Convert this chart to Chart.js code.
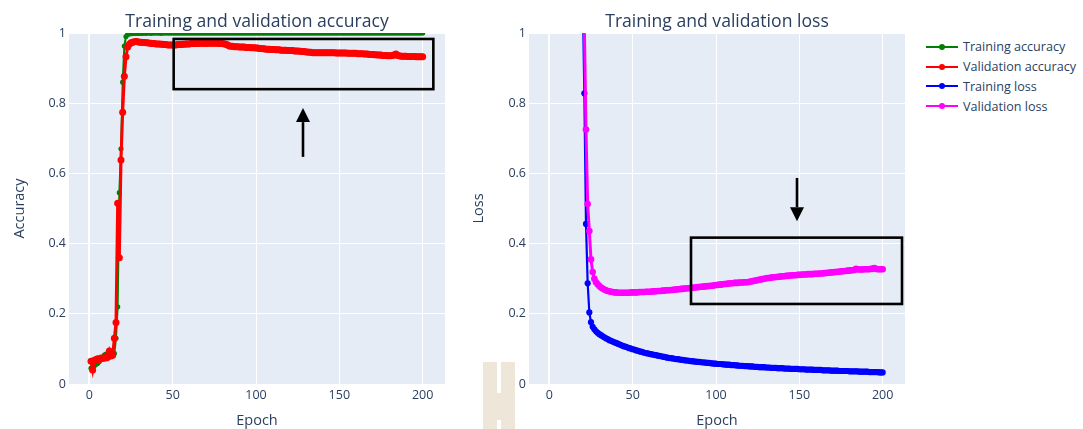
<!DOCTYPE html>
<html>
<head>
<meta charset="utf-8">
<script src="https://cdn.jsdelivr.net/npm/chart.js@4.4.1/dist/chart.umd.min.js"></script>
<style>
  body { margin: 0; background: #fff; width: 1083px; height: 429px; overflow: hidden; position: relative; font-family: "Open Sans", sans-serif; }
  canvas { position: absolute; top: 0; }
  #accChart { left: 0; }
  #lossChart { left: 470px; }
  #legend { position: absolute; left: 926px; top: 37px; font-size: 12.6px; color: #2a3f5f; }
  #legend .row { display: flex; align-items: center; height: 19.8px; white-space: nowrap; }
  #legend svg { margin-right: 5px; }
  .mark { position: absolute; background: #ede6d9; }
  .slit { position: absolute; background: #fff; }
</style>
</head>
<body>
<div class="mark" style="left:483px;top:362px;width:32px;height:67px;"></div>
<div class="slit" style="left:497px;top:362px;width:4px;height:31px;"></div>
<div class="slit" style="left:497px;top:420px;width:4px;height:9px;"></div>
<canvas id="accChart" width="460" height="429"></canvas>
<canvas id="lossChart" width="450" height="429"></canvas>
<div id="legend"></div>
<script>
// values, epochs 1..200
var trainAcc = [
  0.045, 0.048, 0.052, 0.056, 0.059, 0.064, 0.070, 0.076, 0.082, 0.085,
  0.080, 0.079, 0.082, 0.084, 0.087, 0.130, 0.220, 0.545, 0.670, 0.860,
  0.963, 0.990, 0.996, 0.998, 0.998, 0.999, 0.999, 0.999, 0.999, 0.999,
  0.999, 0.999, 1.000, 0.999, 1.000, 1.000, 0.999, 1.000, 1.000, 1.000,
  1.000, 1.000, 0.999, 1.000, 1.000, 1.000, 1.000, 1.000, 1.000, 1.000,
  1.000, 1.000, 1.000, 1.000, 1.000, 1.000, 1.000, 1.000, 1.000, 1.000,
  1.000, 1.000, 1.000, 1.000, 1.000, 1.000, 1.000, 1.000, 1.000, 1.000,
  1.000, 1.000, 1.000, 1.000, 1.000, 1.000, 1.000, 1.000, 1.000, 1.000,
  1.000, 1.000, 1.000, 1.000, 1.000, 1.000, 1.000, 1.000, 1.000, 1.000,
  1.000, 1.000, 1.000, 1.000, 1.000, 1.000, 1.000, 1.000, 1.000, 1.000,
  1.000, 1.000, 1.000, 1.000, 1.000, 1.000, 1.000, 1.000, 1.000, 1.000,
  1.000, 1.000, 1.000, 1.000, 1.000, 1.000, 1.000, 1.000, 1.000, 1.000,
  1.000, 1.000, 1.000, 1.000, 1.000, 1.000, 1.000, 1.000, 1.000, 1.000,
  1.000, 1.000, 1.000, 1.000, 1.000, 1.000, 1.000, 1.000, 1.000, 1.000,
  1.000, 1.000, 1.000, 1.000, 1.000, 1.000, 1.000, 1.000, 1.000, 1.000,
  1.000, 1.000, 1.000, 1.000, 1.000, 1.000, 1.000, 1.000, 1.000, 1.000,
  1.000, 1.000, 1.000, 1.000, 1.000, 1.000, 1.000, 1.000, 1.000, 1.000,
  1.000, 1.000, 1.000, 1.000, 1.000, 1.000, 1.000, 1.000, 1.000, 1.000,
  1.000, 1.000, 1.000, 1.000, 1.000, 1.000, 1.000, 1.000, 1.000, 1.000,
  1.000, 1.000, 1.000, 1.000, 1.000, 1.000, 1.000, 1.000, 1.000, 1.000
];
var valAcc = [
  0.065, 0.040, 0.068, 0.070, 0.072, 0.070, 0.074, 0.073, 0.075, 0.074,
  0.076, 0.094, 0.080, 0.082, 0.130, 0.175, 0.515, 0.360, 0.638, 0.774,
  0.877, 0.932, 0.960, 0.968, 0.972, 0.974, 0.975, 0.976, 0.975, 0.974,
  0.974, 0.973, 0.973, 0.972, 0.972, 0.971, 0.971, 0.970, 0.970, 0.969,
  0.969, 0.969, 0.968, 0.968, 0.967, 0.967, 0.966, 0.966, 0.966, 0.966,
  0.966, 0.966, 0.967, 0.967, 0.967, 0.968, 0.968, 0.969, 0.969, 0.969,
  0.970, 0.970, 0.970, 0.970, 0.970, 0.971, 0.971, 0.971, 0.971, 0.970,
  0.971, 0.971, 0.971, 0.971, 0.971, 0.971, 0.971, 0.970, 0.970, 0.970,
  0.969, 0.968, 0.966, 0.963, 0.962, 0.962, 0.961, 0.961, 0.961, 0.960,
  0.960, 0.960, 0.960, 0.959, 0.959, 0.959, 0.958, 0.958, 0.958, 0.957,
  0.957, 0.956, 0.956, 0.955, 0.955, 0.954, 0.954, 0.954, 0.953, 0.953,
  0.953, 0.952, 0.952, 0.952, 0.951, 0.951, 0.951, 0.951, 0.950, 0.950,
  0.950, 0.950, 0.949, 0.949, 0.949, 0.948, 0.948, 0.947, 0.947, 0.946,
  0.946, 0.945, 0.945, 0.944, 0.944, 0.944, 0.944, 0.944, 0.944, 0.944,
  0.944, 0.944, 0.944, 0.944, 0.944, 0.944, 0.944, 0.943, 0.943, 0.943,
  0.943, 0.943, 0.943, 0.943, 0.942, 0.942, 0.942, 0.942, 0.942, 0.942,
  0.941, 0.941, 0.941, 0.941, 0.940, 0.940, 0.940, 0.939, 0.939, 0.939,
  0.938, 0.938, 0.937, 0.937, 0.937, 0.936, 0.936, 0.936, 0.935, 0.935,
  0.935, 0.936, 0.938, 0.940, 0.936, 0.935, 0.934, 0.934, 0.934, 0.934,
  0.933, 0.933, 0.933, 0.933, 0.933, 0.932, 0.932, 0.932, 0.932, 0.932
];
var trainLoss = [
  4.62, 4.41, 4.28, 4.17, 4.08, 3.99, 3.91, 3.84, 3.77, 3.71,
  3.66, 3.60, 3.53, 3.44, 3.30, 3.05, 2.62, 2.05, 1.52, 1.12,
  0.828, 0.456, 0.287, 0.204, 0.176, 0.163, 0.156, 0.150, 0.146, 0.142,
  0.139, 0.136, 0.133, 0.130, 0.128, 0.125, 0.123, 0.121, 0.119, 0.117,
  0.115, 0.113, 0.111, 0.109, 0.107, 0.106, 0.104, 0.102, 0.101, 0.099,
  0.098, 0.096, 0.095, 0.093, 0.092, 0.091, 0.089, 0.088, 0.087, 0.086,
  0.085, 0.084, 0.083, 0.082, 0.081, 0.080, 0.079, 0.078, 0.077, 0.076,
  0.075, 0.074, 0.074, 0.073, 0.072, 0.071, 0.071, 0.070, 0.069, 0.069,
  0.068, 0.067, 0.067, 0.066, 0.065, 0.065, 0.064, 0.064, 0.063, 0.063,
  0.062, 0.062, 0.061, 0.061, 0.060, 0.060, 0.059, 0.059, 0.058, 0.058,
  0.057, 0.057, 0.057, 0.056, 0.056, 0.055, 0.055, 0.055, 0.054, 0.054,
  0.054, 0.053, 0.053, 0.052, 0.052, 0.052, 0.051, 0.051, 0.051, 0.050,
  0.050, 0.050, 0.049, 0.049, 0.049, 0.048, 0.048, 0.048, 0.048, 0.047,
  0.047, 0.047, 0.046, 0.046, 0.046, 0.046, 0.045, 0.045, 0.045, 0.045,
  0.044, 0.044, 0.044, 0.044, 0.043, 0.043, 0.043, 0.043, 0.043, 0.042,
  0.042, 0.042, 0.042, 0.041, 0.041, 0.041, 0.041, 0.041, 0.040, 0.040,
  0.040, 0.040, 0.040, 0.039, 0.039, 0.039, 0.039, 0.039, 0.038, 0.038,
  0.038, 0.038, 0.038, 0.037, 0.037, 0.037, 0.037, 0.037, 0.037, 0.036,
  0.036, 0.036, 0.036, 0.036, 0.036, 0.035, 0.035, 0.035, 0.035, 0.035,
  0.035, 0.034, 0.034, 0.034, 0.034, 0.034, 0.034, 0.033, 0.033, 0.033
];
var valLoss = [
  4.35, 4.22, 4.12, 4.03, 3.95, 3.88, 3.82, 3.76, 3.71, 3.66,
  3.61, 3.56, 3.50, 3.42, 3.30, 3.08, 2.70, 2.18, 1.68, 1.31,
  1.02, 0.725, 0.513, 0.436, 0.355, 0.319, 0.300, 0.290, 0.284, 0.279,
  0.275, 0.272, 0.269, 0.267, 0.265, 0.264, 0.263, 0.262, 0.261, 0.261,
  0.260, 0.260, 0.260, 0.260, 0.260, 0.260, 0.260, 0.260, 0.261, 0.261,
  0.261, 0.261, 0.261, 0.262, 0.262, 0.262, 0.262, 0.263, 0.263, 0.263,
  0.263, 0.264, 0.264, 0.264, 0.265, 0.265, 0.265, 0.266, 0.266, 0.267,
  0.267, 0.267, 0.268, 0.268, 0.269, 0.269, 0.270, 0.270, 0.271, 0.271,
  0.272, 0.272, 0.273, 0.273, 0.274, 0.274, 0.275, 0.275, 0.276, 0.276,
  0.277, 0.277, 0.278, 0.278, 0.279, 0.279, 0.280, 0.280, 0.281, 0.282,
  0.282, 0.283, 0.283, 0.284, 0.285, 0.285, 0.286, 0.286, 0.287, 0.287,
  0.288, 0.288, 0.288, 0.289, 0.289, 0.289, 0.290, 0.290, 0.290, 0.291,
  0.292, 0.293, 0.294, 0.295, 0.296, 0.297, 0.298, 0.299, 0.300, 0.301,
  0.302, 0.302, 0.303, 0.304, 0.304, 0.305, 0.305, 0.306, 0.306, 0.307,
  0.307, 0.308, 0.308, 0.309, 0.309, 0.310, 0.310, 0.310, 0.311, 0.311,
  0.311, 0.312, 0.312, 0.312, 0.313, 0.313, 0.313, 0.313, 0.314, 0.314,
  0.314, 0.315, 0.315, 0.315, 0.316, 0.316, 0.317, 0.317, 0.318, 0.318,
  0.319, 0.319, 0.320, 0.320, 0.321, 0.321, 0.322, 0.322, 0.323, 0.323,
  0.324, 0.324, 0.325, 0.328, 0.327, 0.326, 0.326, 0.326, 0.327, 0.327,
  0.327, 0.327, 0.328, 0.328, 0.330, 0.328, 0.327, 0.327, 0.327, 0.327
];
var xTicks = [0, 50, 100, 150, 200];
var yTicks = [0, 0.2, 0.4, 0.6, 0.8, 1];

var seriesNames = ['Training accuracy', 'Validation accuracy', 'Training loss', 'Validation loss'];
var seriesColors = ['#008000', '#ff0000', '#0000ff', '#ff00ff'];
// marker radius / line width per series
var seriesRadius = [2.6, 3.5, 3.1, 3.3];
var seriesWidth = [2, 3, 2.2, 3];

var epochs = trainAcc.map(function(v, i) { return i + 1; });
var ink = '#2a3f5f';
var fontFamily = '"Open Sans", sans-serif';

function points(values) {
  return values.map(function(v, i) { return { x: epochs[i], y: v }; });
}

function series(idx, values, order) {
  return {
    label: seriesNames[idx],
    data: points(values),
    borderColor: seriesColors[idx],
    backgroundColor: seriesColors[idx],
    borderWidth: seriesWidth[idx],
    pointRadius: seriesRadius[idx],
    pointBorderWidth: 0,
    pointBackgroundColor: seriesColors[idx],
    tension: 0,
    order: order,
    clip: { left: 10, top: 0, right: 10, bottom: 10 }
  };
}

// plotly-like background, titles, boxes and arrows
var plotlyLook = {
  id: 'plotlyLook',
  beforeDraw: function(chart) {
    var a = chart.chartArea, ctx = chart.ctx;
    ctx.save();
    ctx.fillStyle = '#e5ecf6';
    ctx.fillRect(a.left, a.top, a.right - a.left, a.bottom - a.top);
    ctx.restore();
  },
  afterDraw: function(chart, args, opts) {
    var a = chart.chartArea, ctx = chart.ctx;
    var xs = chart.scales.x, ys = chart.scales.y;
    var cx = (a.left + a.right) / 2;
    ctx.save();
    ctx.fillStyle = ink;
    ctx.textAlign = 'center';
    ctx.textBaseline = 'alphabetic';
    ctx.font = '17.6px ' + fontFamily;
    ctx.fillText(opts.title, cx, 27);
    ctx.font = '14.5px ' + fontFamily;
    ctx.fillText('Epoch', cx, 425);
    ctx.save();
    ctx.translate(opts.yTitleX, (a.top + a.bottom) / 2);
    ctx.rotate(-Math.PI / 2);
    ctx.fillText(opts.yTitle, 0, 0);
    ctx.restore();

    var b = opts.box;
    var x1 = xs.getPixelForValue(b[0]), x2 = xs.getPixelForValue(b[1]);
    var y1 = ys.getPixelForValue(b[3]), y2 = ys.getPixelForValue(b[2]);
    ctx.strokeStyle = '#000';
    ctx.lineWidth = 2.6;
    ctx.strokeRect(x1, y1, x2 - x1, y2 - y1);

    var ar = opts.arrow;
    var ax = xs.getPixelForValue(ar[0]);
    var tail = ys.getPixelForValue(ar[1]), tip = ys.getPixelForValue(ar[2]);
    var dir = tip < tail ? -1 : 1;
    var head = 14;
    ctx.lineWidth = 2.6;
    ctx.beginPath();
    ctx.moveTo(ax, tail);
    ctx.lineTo(ax, tip - dir * head);
    ctx.stroke();
    ctx.fillStyle = '#000';
    ctx.beginPath();
    ctx.moveTo(ax, tip);
    ctx.lineTo(ax - 7, tip - dir * head);
    ctx.lineTo(ax + 7, tip - dir * head);
    ctx.closePath();
    ctx.fill();
    ctx.restore();
  }
};

function axisTicks(list) {
  return function(scale) {
    scale.ticks = list.map(function(v) { return { value: v }; });
  };
}

function plainLabel(value) {
  return String(value);
}

function makeChart(id, datasets, yAxisWidth, look) {
  return new Chart(document.getElementById(id), {
    type: 'line',
    data: { datasets: datasets },
    plugins: [plotlyLook],
    options: {
      responsive: false,
      animation: false,
      devicePixelRatio: 1,
      events: [],
      layout: { padding: { top: 33, right: 15, bottom: 0, left: 0 } },
      plugins: {
        legend: { display: false },
        tooltip: { enabled: false },
        plotlyLook: look
      },
      scales: {
        x: {
          type: 'linear',
          min: -12.2,
          max: 213.4,
          afterBuildTicks: axisTicks(xTicks),
          afterFit: function(s) { s.height = 45; },
          border: { display: false },
          grid: {
            color: '#ffffff',
            drawTicks: false,
            lineWidth: function(c) { return c.tick && c.tick.value === 0 ? 2 : 1; }
          },
          ticks: { padding: 4, color: ink, autoSkip: false, maxRotation: 0, callback: plainLabel, font: { family: fontFamily, size: 12.5 } }
        },
        y: {
          min: 0,
          max: 1,
          afterBuildTicks: axisTicks(yTicks),
          afterFit: function(s) { s.width = yAxisWidth; },
          border: { display: false },
          grid: { color: '#ffffff', drawTicks: false, lineWidth: 1 },
          ticks: { padding: 3, color: ink, autoSkip: false, callback: plainLabel, font: { family: fontFamily, size: 12.5 } }
        }
      }
    }
  });
}

makeChart('accChart', [series(0, trainAcc, 1), series(1, valAcc, 0)], 69, {
  title: 'Training and validation accuracy',
  yTitle: 'Accuracy',
  yTitleX: 23.5,
  box: [50.6, 206.4, 0.840, 0.983],
  arrow: [128.2, 0.647, 0.786]
});

makeChart('lossChart', [series(2, trainLoss, 1), series(3, valLoss, 0)], 59, {
  title: 'Training and validation loss',
  yTitle: 'Loss',
  yTitleX: 12.5,
  box: [85, 211.6, 0.228, 0.417],
  arrow: [148.6, 0.587, 0.464]
});

// legend
var legend = document.getElementById('legend');
seriesNames.forEach(function(name, i) {
  var row = document.createElement('div');
  row.className = 'row';
  row.innerHTML = '<svg width="32" height="10"><line x1="0" y1="5" x2="32" y2="5" stroke="' + seriesColors[i] +
    '" stroke-width="2"/><circle cx="16" cy="5" r="3" fill="' + seriesColors[i] + '"/></svg><span>' + name + '</span>';
  legend.appendChild(row);
});
</script>
</body>
</html>
